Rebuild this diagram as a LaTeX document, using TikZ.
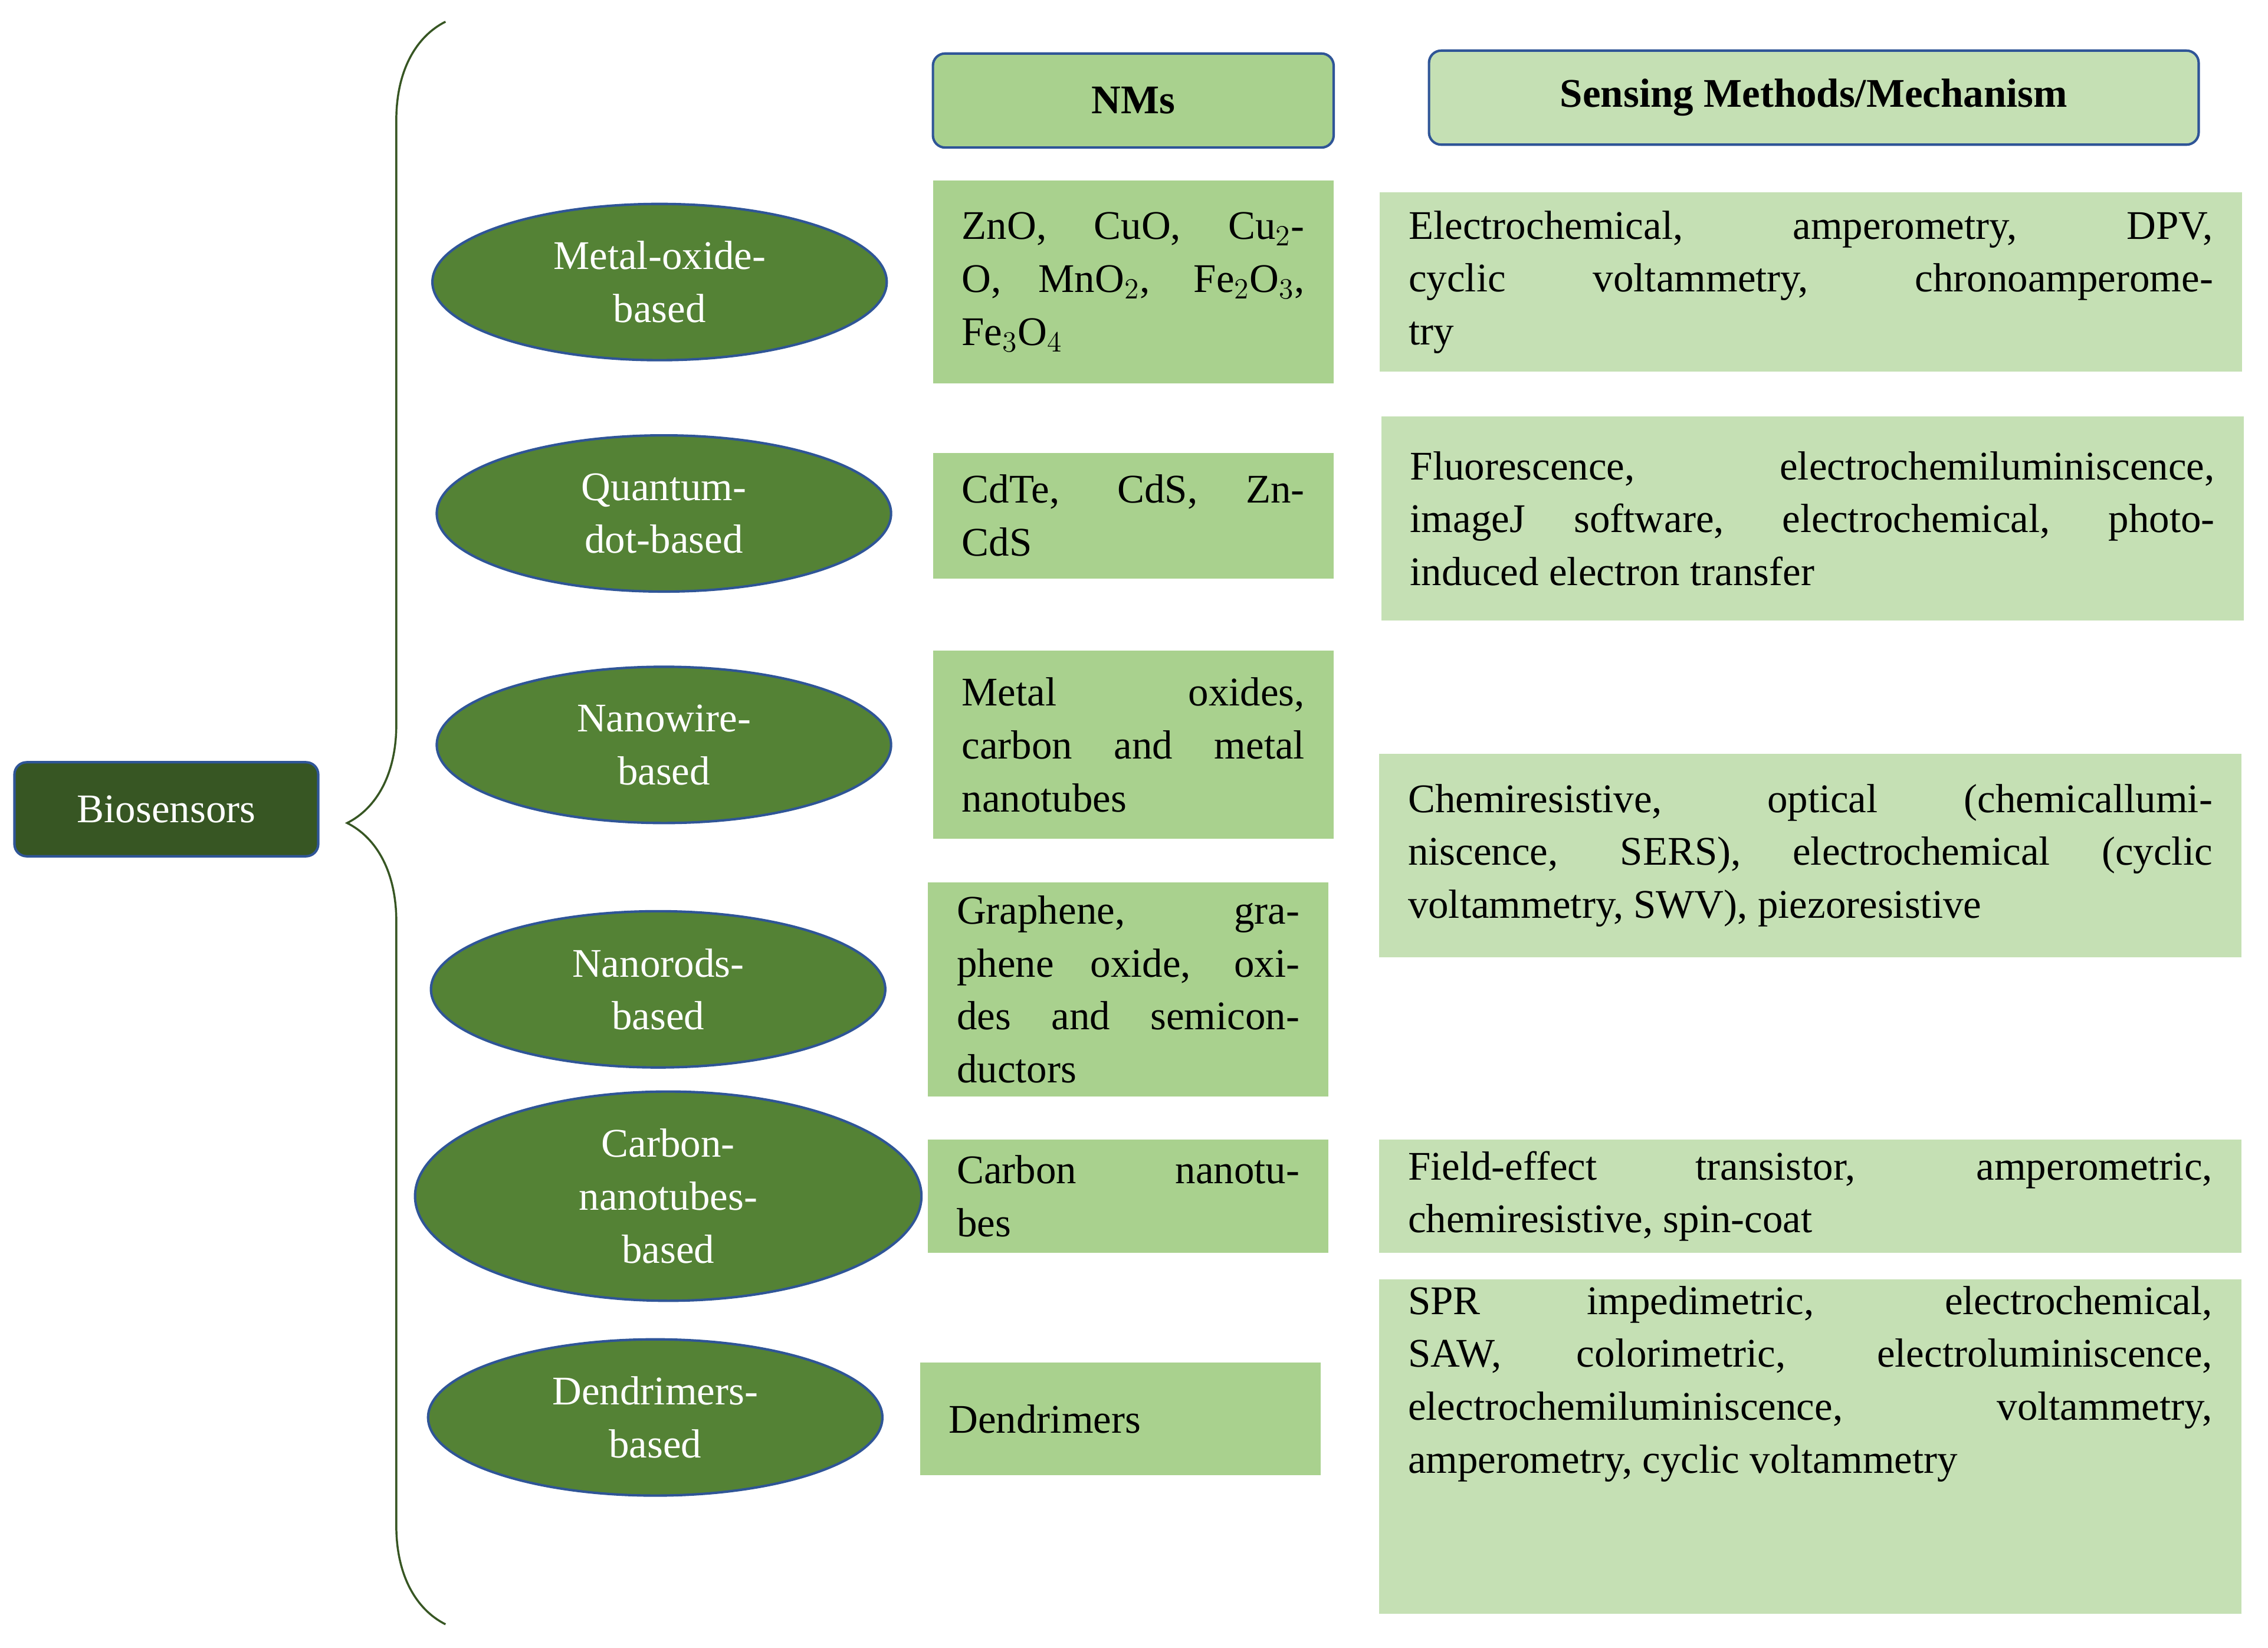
\documentclass[tikz,border=0pt]{standalone}
\usepackage{fontspec}
\setmainfont{Liberation Serif}
\usetikzlibrary{shapes.geometric,decorations.pathreplacing}
\definecolor{dk}{HTML}{375623}
\definecolor{el}{HTML}{548235}
\definecolor{bl}{HTML}{2F5597}
\definecolor{nm}{HTML}{A9D18E}
\definecolor{sm}{HTML}{C5E0B4}
\begin{document}
\begin{tikzpicture}[x=0.025cm,y=-0.025cm,
  every node/.style={font=\fontsize{20}{26}\selectfont},
  ell/.style={ellipse,draw=bl,line width=1.2pt,fill=el,text=white,align=center,minimum width=7.85cm,minimum height=2.7cm},
  nmb/.style={fill=nm,inner xsep=0.5cm,align=justify,text width=5.925cm,minimum width=6.925cm},
  smb/.style={fill=sm,inner xsep=0.5cm,align=justify,text width=13.9cm,minimum width=14.9cm},
  hd/.style={draw=bl,line width=1.2pt,rounded corners=6pt,font=\fontsize{20}{26}\selectfont\bfseries,minimum height=1.625cm}]
\useasboundingbox (0,0) rectangle (1568,1139);
\node[draw=bl,line width=1.2pt,rounded corners=6pt,fill=dk,text=white,minimum width=5.25cm,minimum height=1.625cm] (bio) at (115,559.5) {Biosensors};
\coordinate (bb) at (308,1123);
\coordinate (bt) at (308,15);
\draw[dk,line width=1pt,decorate,decoration={brace,amplitude=1.7cm,aspect=0.5}] (bb) -- (bt);
\node[hd,fill=nm,minimum width=6.925cm] (hnm) at (783.5,69.5) {NMs};
\node[hd,fill=sm,minimum width=13.3cm] (hsm) at (1254,67.5) {Sensing Methods/Mechanism};
\node[ell] (e1) at (456,195) {Metal-oxide-\\based};
\node[ell] (e2) at (459,355) {Quantum-\\dot-based};
\node[ell] (e3) at (459,515) {Nanowire-\\based};
\node[ell] (e4) at (455,684) {Nanorods-\\based};
\node[ell,minimum width=8.75cm] (e5) at (462,827) {Carbon-\\nanotubes-\\based};
\node[ell] (e6) at (453,980) {Dendrimers-\\based};
\node[nmb,minimum height=3.5cm] (n1) at (783.5,195) {ZnO, CuO, Cu$_2$-\linebreak O, MnO$_2$, Fe$_2$O$_3$,\linebreak Fe$_3$O$_4$};
\node[nmb,minimum height=2.175cm] (n2) at (783.5,356.5) {CdTe, CdS, Zn-\linebreak CdS};
\node[nmb,minimum height=3.25cm] (n3) at (783.5,515) {Metal oxides,\linebreak carbon and metal\linebreak nanotubes};
\node[nmb,minimum height=3.7cm] (n4) at (780,684) {Graphene, gra-\linebreak phene oxide, oxi-\linebreak des and semicon-\linebreak ductors};
\node[nmb,minimum height=1.95cm] (n5) at (780,827) {Carbon nanotu-\linebreak bes};
\node[nmb,minimum height=1.95cm] (n6) at (774.5,981) {Dendrimers};
\node[smb,minimum height=3.1cm] (s1) at (1252,195) {Electrochemical, amperometry, DPV,\linebreak cyclic voltammetry, chronoamperome-\linebreak try};
\node[smb,minimum height=3.525cm] (s2) at (1253,358.5) {Fluorescence, electrochemiluminiscence,\linebreak imageJ software, electrochemical, photo-\linebreak induced electron transfer};
\node[smb,minimum height=3.525cm] (s3) at (1251.5,591.5) {Chemiresistive, optical (chemicallumi-\linebreak niscence, SERS), electrochemical (cyclic\linebreak voltammetry, SWV), piezoresistive};
\node[smb,minimum height=1.95cm] (s4) at (1251.5,827) {Field-effect transistor, amperometric,\linebreak chemiresistive, spin-coat};
\node[smb,minimum height=5cm] (s5) at (1251.5,1000) {SPR impedimetric, electrochemical,\linebreak SAW, colorimetric, electroluminiscence,\linebreak electrochemiluminiscence, voltammetry,\linebreak amperometry, cyclic voltammetry\\[1.4cm]};
\end{tikzpicture}
\end{document}
